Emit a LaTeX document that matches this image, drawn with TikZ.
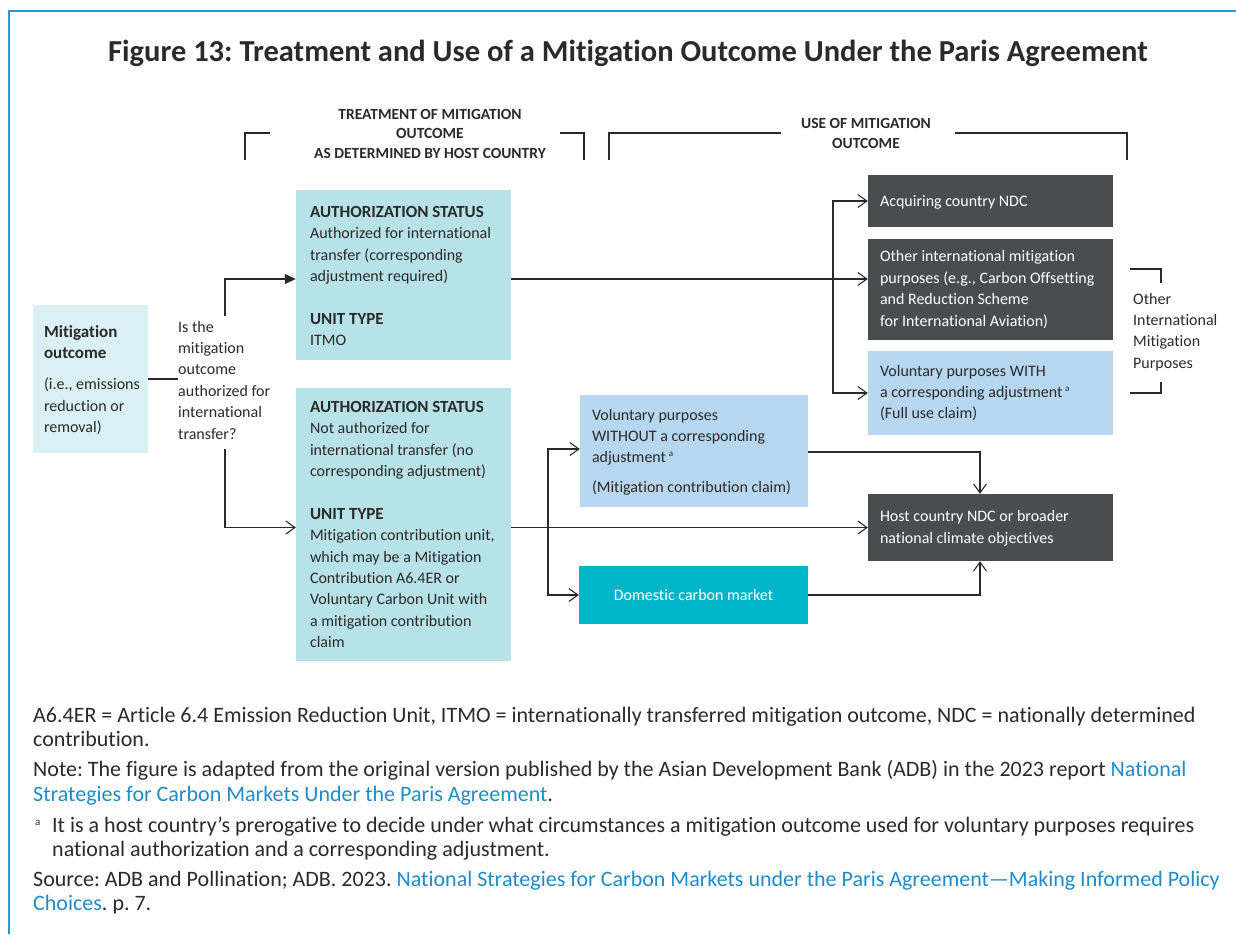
\documentclass[tikz,border=0pt]{standalone}
\usepackage{fontspec}
\setmainfont{Carlito}[Ligatures=NoCommon]
\usetikzlibrary{arrows.meta,calc}
\frenchspacing

\definecolor{ink}{HTML}{2A2A2A}
\definecolor{frameblue}{HTML}{2B98D5}
\definecolor{linkblue}{HTML}{1E8CCB}
\definecolor{palecyan}{HTML}{DAF0F4}
\definecolor{teallight}{HTML}{B7E2E8}
\definecolor{skylight}{HTML}{B6D7EF}
\definecolor{tealdeep}{HTML}{00B5C8}
\definecolor{slate}{HTML}{4B4C4E}

\newcommand{\lnk}[1]{\textcolor{linkblue}{#1}}
\newcommand{\fnmark}{\textsuperscript{\fontsize{9}{9}\selectfont a}}
\newcommand{\hd}[1]{{\fontsize{17}{21.4}\selectfont\bfseries #1}}

\tikzset{
  panel/.style={rectangle, inner sep=0pt},
  txt/.style={anchor=west, inner sep=0pt, align=left, text=ink,
    font=\fontsize{16}{21.4}\selectfont},
  wtxt/.style={txt, text=white},
  conn/.style={draw=ink, line width=1.2pt},
  arr/.style={conn, -{Straight Barb[length=9pt,width=13pt,line width=1.1pt]}},
  farr/.style={conn, -{Triangle[length=11pt,width=10pt]}},
  brk/.style={draw=ink, line width=1.1pt},
  head/.style={anchor=base, text=ink, inner sep=0pt, font=\bfseries\fontsize{15.5}{19}\selectfont},
  foot/.style={anchor=base west, text=ink, inner sep=0pt, font=\fontsize{22}{24}\selectfont},
}

\begin{document}
\begin{tikzpicture}[x=1pt,y=-1pt]
\useasboundingbox (0,0) rectangle (1236,934);

% frame
\draw[frameblue, line width=2pt] (9,934) -- (9,11) -- (1236,11);

% title
\node[anchor=base, text=ink, inner sep=0pt, font=\bfseries\fontsize{30.5}{34}\selectfont] (title) at (628,61)
  {Figure 13: Treatment and Use of a Mitigation Outcome Under the Paris Agreement};

% column headings
\node[head] (h1a) at (430,119) {TREATMENT OF MITIGATION};
\node[head] (h1b) at (430,138) {OUTCOME};
\node[head] (h1c) at (430,158) {AS DETERMINED BY HOST COUNTRY};
\node[head] (h2a) at (866,128) {USE OF MITIGATION};
\node[head] (h2b) at (866,148) {OUTCOME};
\draw[brk] (245,160) -- (245,133) -- (270,133);
\draw[brk] (560,133) -- (584,133) -- (584,160);
\draw[brk] (609,160) -- (609,133) -- (781,133);
\draw[brk] (955,133) -- (1127,133) -- (1127,160);

% coloured panels
\node[panel, fill=palecyan,  minimum width=115pt, minimum height=148pt] (mo)    at (90.5,379)   {};
\node[panel, fill=teallight, minimum width=215pt, minimum height=170pt] (A)     at (403.5,275)  {};
\node[panel, fill=teallight, minimum width=215pt, minimum height=273pt] (B)     at (403.5,524.5){};
\node[panel, fill=slate,     minimum width=245pt, minimum height=52pt]  (acq)   at (990.5,201)  {};
\node[panel, fill=slate,     minimum width=245pt, minimum height=101pt] (oth)   at (990.5,289.5){};
\node[panel, fill=skylight,  minimum width=245pt, minimum height=84pt]  (vwith) at (990.5,393)  {};
\node[panel, fill=skylight,  minimum width=228pt, minimum height=112pt] (vwo)   at (694,451)    {};
\node[panel, fill=tealdeep,  minimum width=229pt, minimum height=58pt, text=white,
      font=\fontsize{16}{21.4}\selectfont] (dom) at (693.5,595) {Domestic carbon market};
\node[panel, fill=slate,     minimum width=245pt, minimum height=67pt]  (host)  at (990.5,527.5){};

% panel texts
\node[txt] (mot) at ($(mo.west)+(11,1)$)
  {\hd{Mitigation}\\ \hd{outcome}\\[10pt] (i.e., emissions\\ reduction or\\ removal)};
\node[txt] (q) at (178,380)
  {Is the\\ mitigation\\ outcome\\ authorized for\\ international\\ transfer?};
\node[txt] (At) at ($(A.west)+(14,1)$)
  {\hd{AUTHORIZATION STATUS}\\ Authorized for international\\ transfer (corresponding\\ adjustment required)\\[21.4pt]
   \hd{UNIT TYPE}\\ ITMO};
\node[txt] (Bt) at ($(B.west)+(14,0)$)
  {\hd{AUTHORIZATION STATUS}\\ Not authorized for\\ international transfer (no\\ corresponding adjustment)\\[21.4pt]
   \hd{UNIT TYPE}\\ Mitigation contribution unit,\\ which may be a Mitigation\\ Contribution A6.4ER or\\
   Voluntary Carbon Unit with\\ a mitigation contribution\\ claim};
\node[wtxt] (acqt) at ($(acq.west)+(12,1)$) {Acquiring country NDC};
\node[wtxt] (otht) at ($(oth.west)+(12,0)$)
  {Other international mitigation\\ purposes (e.g., Carbon Offsetting\\ and Reduction Scheme\\ for International Aviation)};
\node[txt] (vwitht) at ($(vwith.west)+(12,0)$)
  {Voluntary purposes WITH\\ a corresponding adjustment\,\fnmark\\ (Full use claim)};
\node[txt] (vwot) at ($(vwo.west)+(12,1)$)
  {Voluntary purposes\\ WITHOUT a corresponding\\ adjustment\,\fnmark\\[8pt] (Mitigation contribution claim)};
\node[wtxt] (hostt) at ($(host.west)+(12,1)$)
  {Host country NDC or broader\\ national climate objectives};

% side bracket for international purposes
\node[txt] (oimp) at (1133,332)
  {Other\\ International\\ Mitigation\\ Purposes};
\draw[brk] (1130,269) -- (1161,269) -- (1161,283);
\draw[brk] (1161,382) -- (1161,393) -- (1130,393);

% junction points
\coordinate (qt) at (225,316);
\coordinate (qb) at (225,449);
\coordinate (yA) at (0,279);
\coordinate (j1) at (833,279);
\coordinate (j2) at (548,527);
\coordinate (yv) at (0,449);
\coordinate (h1) at (980,452);
\coordinate (h2) at (980,595);

% connectors
\draw[conn] (mo.east) -- (q.west |- mo.east);
\draw[farr] (qt) |- (A.west |- yA);
\draw[arr] (qb) |- (B.west |- host.west);
\draw[arr] (A.east |- j1) -- (oth.west |- j1);
\draw[arr] (j1) |- (acq.west);
\draw[arr] (j1) |- (vwith.west);
\draw[arr] (B.east |- host.west) -- (host.west);
\draw[arr] (j2) |- (vwo.west |- yv);
\draw[arr] (j2) |- (dom.west);
\draw[arr] (vwo.east |- h1) -| (host.north -| h1);
\draw[arr] (dom.east |- h2) -| (host.south -| h2);

% notes
\node[foot] (n1) at (33,722) {A6.4ER = Article 6.4 Emission Reduction Unit, ITMO = internationally transferred mitigation outcome, NDC = nationally determined};
\node[foot] (n2) at (33,746) {contribution.};
\node[foot] (n3) at (33,776) {Note: The figure is adapted from the original version published by the Asian Development Bank (ADB) in the 2023 report \lnk{National}};
\node[foot] (n4) at (33,801) {\lnk{Strategies for Carbon Markets Under the Paris Agreement}.};
\node[foot, font=\fontsize{11}{11}\selectfont] (n5m) at (35,825) {a};
\node[foot] (n5) at (52,832) {It is a host country’s prerogative to decide under what circumstances a mitigation outcome used for voluntary purposes requires};
\node[foot] (n6) at (52,856) {national authorization and a corresponding adjustment.};
\node[foot] (n7) at (33,886) {Source: ADB and Pollination; ADB. 2023. \lnk{National Strategies for Carbon Markets under the Paris Agreement—Making Informed Policy}};
\node[foot] (n8) at (33,910) {\lnk{Choices}. p. 7.};
\end{tikzpicture}
\end{document}
